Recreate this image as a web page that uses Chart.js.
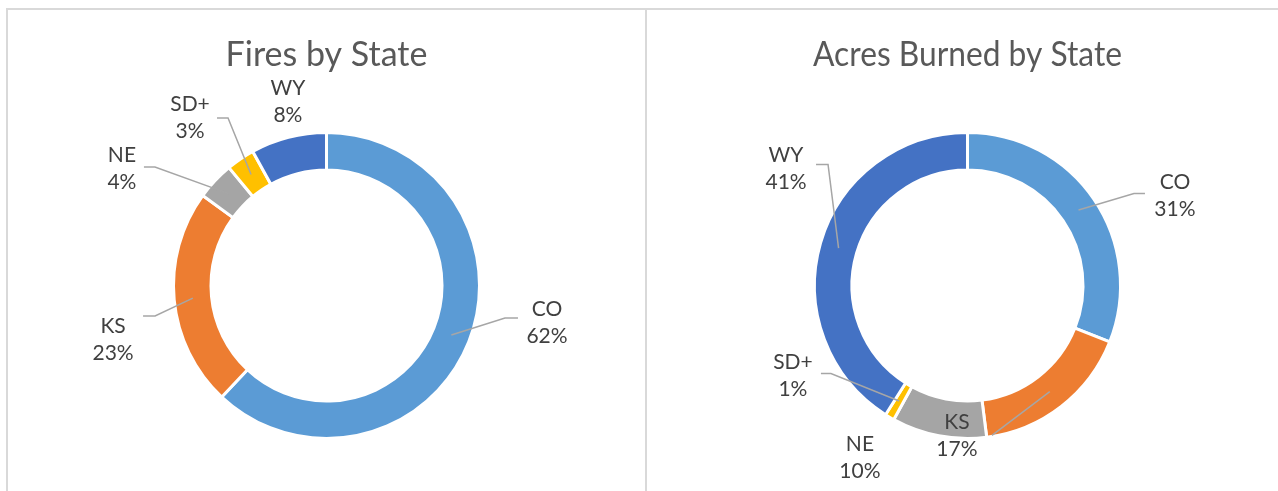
<!DOCTYPE html>
<html>
<head>
<meta charset="utf-8">
<script src="https://cdn.jsdelivr.net/npm/chart.js@4.4.1/dist/chart.umd.min.js"></script>
<style>
  html, body { margin: 0; padding: 0; background: #fff; overflow: hidden; width: 1278px; height: 491px; }
  .panel { position: absolute; top: 8px; height: 500px; border: 2px solid #d9d9d9; box-sizing: border-box; }
  #panelFires { left: 6px; width: 641px; }
  #panelAcres { left: 645px; width: 700px; }
  .wrap { position: relative; height: 481px; }
  #panelFires .wrap { width: 637px; }
  #panelAcres .wrap { width: 631px; }
</style>
</head>
<body>
<div class="panel" id="panelFires"><div class="wrap"><canvas id="firesChart"></canvas></div></div>
<div class="panel" id="panelAcres"><div class="wrap"><canvas id="acresChart"></canvas></div></div>

<script>
// ------------------------------------------------------------
// DATA
// ------------------------------------------------------------
const states = ["CO", "KS", "NE", "SD+", "WY"];
const firesShare = [62, 23, 4, 3, 8];
const acresShare = [31, 17, 10, 1, 41];

const sliceColors = ["#5b9bd5", "#ed7d31", "#a5a5a5", "#ffc000", "#4472c4"];

// label placement (multiples of outer radius, from centre)
const firesLabelPos = [[1.441, 0.242], [-1.395, 0.356], [-1.337, -0.765], [-0.892, -1.098], [-0.252, -1.199]];
const acresLabelPos = [[1.356, -0.585], [-0.069, 0.980], [-0.703, 1.127], [-1.141, 0.588], [-1.186, -0.765]];

// leader lines: stub start + knee, px from label centre (null = no line)
const firesLeaders = [[-29, -4.5, -42, -4.5], [30, -24, 42, -24], [22, -1.5, 33, -1.5], [27, 0.5, 38, 0.5], null];
const acresLeaders = [[-30, -2.5, -41, -2.5], [35, 0, 35, 0], null, [28, -2, 38, -2], [30, -4, 42, -4]];

// ------------------------------------------------------------
// CALLOUT LABELS
// ------------------------------------------------------------
const calloutPlugin = {
  id: "callouts",
  afterDatasetsDraw(chart, args, opts) {
    const ctx = chart.ctx;
    const meta = chart.getDatasetMeta(0);
    const values = chart.data.datasets[0].data;
    const total = values.reduce((a, b) => a + b, 0);

    ctx.save();
    meta.data.forEach((arc, i) => {
      const p = arc.getProps(["x", "y", "outerRadius"], true);
      const pos = opts.positions[i];
      const lx = p.x + pos[0] * p.outerRadius;
      const ly = p.y + pos[1] * p.outerRadius;

      const leader = opts.leaders[i];
      if (leader) {
        const a = arc.tooltipPosition(true);
        ctx.beginPath();
        ctx.moveTo(lx + leader[0], ly + leader[1]);
        ctx.lineTo(lx + leader[2], ly + leader[3]);
        ctx.lineTo(a.x, a.y);
        ctx.strokeStyle = "#a6a6a6";
        ctx.lineWidth = 1.5;
        ctx.stroke();
      }

      ctx.fillStyle = "#404040";
      ctx.font = "21px Lato";
      ctx.textAlign = "center";
      ctx.textBaseline = "middle";
      ctx.fillText(chart.data.labels[i], lx, ly - 13.5);
      ctx.fillText(Math.round(values[i] / total * 100) + "%", lx, ly + 13.5);
    });
    ctx.restore();
  }
};

function makeDonut(canvasId, title, values, positions, leaders, padding) {
  return new Chart(document.getElementById(canvasId), {
    type: "doughnut",
    data: {
      labels: states,
      datasets: [{
        data: values,
        backgroundColor: sliceColors,
        borderColor: "#ffffff",
        borderWidth: 3
      }]
    },
    options: {
      responsive: true,
      maintainAspectRatio: false,
      animation: false,
      events: [],
      cutout: "75.5%",
      layout: { padding },
      plugins: {
        legend: { display: false },
        tooltip: { enabled: false },
        title: {
          display: true,
          text: title,
          color: "#595959",
          font: { family: "Lato", size: 34, weight: "normal" },
          padding: { top: 24.6, bottom: 55.6 }
        },
        callouts: { positions, leaders }
      }
    },
    plugins: [calloutPlugin]
  });
}

makeDonut("firesChart", "Fires by State", firesShare, firesLabelPos, firesLeaders,
  { left: 164, right: 164, top: 0, bottom: 51 });
makeDonut("acresChart", "Acres Burned by State", acresShare, acresLabelPos, acresLeaders,
  { left: 166, right: 156, top: 0, bottom: 51 });
</script>
</body>
</html>
